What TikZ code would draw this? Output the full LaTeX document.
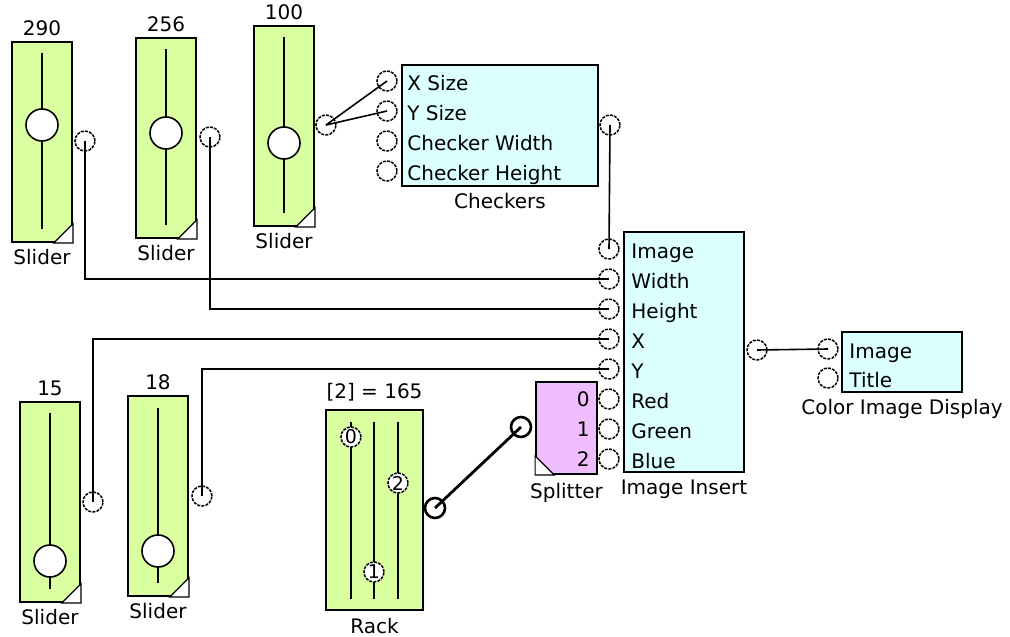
\documentclass[tikz,border=0pt]{standalone}
\usepackage{fontspec}
\setmainfont{DejaVu Sans}
\definecolor{sliderG}{RGB}{217,255,160}
\definecolor{cyanB}{RGB}{220,255,255}
\definecolor{pinkB}{RGB}{240,190,255}
\tikzset{
  sliderbox/.style={draw, line width=0.9pt, fill=sliderG, minimum width=30pt, minimum height=100pt, inner sep=0},
  infobox/.style={draw, line width=0.9pt, fill=cyanB, inner sep=0},
  port/.style={circle, draw, dash pattern=on 1.5pt off 0.6pt, line width=0.75pt, minimum size=10pt, inner sep=0},
  hport/.style={circle, draw, line width=1.3pt, minimum size=10pt, inner sep=0},
  knob/.style={circle, draw, fill=white, line width=0.8pt, minimum size=16pt, inner sep=0},
  rknob/.style={circle, draw, dash pattern=on 1.5pt off 0.6pt, fill=white, line width=0.75pt, minimum size=10pt, inner sep=0, font=\fontsize{9.5}{10}\selectfont},
  trk/.style={line width=0.8pt},
  corner/.style={draw, line width=0.6pt, fill=white},
  wire/.style={line width=0.8pt},
  thickwire/.style={line width=1.4pt},
  lbl/.style={font=\fontsize{10}{12}\selectfont, inner sep=0},
  vlbl/.style={lbl, anchor=south},
  tlbl/.style={lbl, anchor=north},
  plbl/.style={lbl, anchor=base west},
}
\begin{document}
\begin{tikzpicture}[x=0.5pt,y=-0.5pt]
\useasboundingbox (0,0) rectangle (1010,636);

% ---------- Slider 1 (290)
\node[sliderbox] (s1) at (42,142) {};
\draw[trk] (42,53) -- (42,229);
\node[knob] (s1k) at (42,125) {};
\draw[corner] (s1.south east) ++(-9.5pt,0) -- (s1.south east) -- ++(0,9.5pt) -- cycle;
\node[vlbl] (s1v) at ([yshift=2.5pt]s1.north) {290};
\node[tlbl] (s1t) at ([yshift=-3pt]s1.south) {Slider};
\node[port] (s1p) at (85,141) {};

% ---------- Slider 2 (256)
\node[sliderbox] (s2) at (166,138) {};
\draw[trk] (166,49) -- (166,225);
\node[knob] (s2k) at (166,133) {};
\draw[corner] (s2.south east) ++(-9.5pt,0) -- (s2.south east) -- ++(0,9.5pt) -- cycle;
\node[vlbl] (s2v) at ([yshift=2.5pt]s2.north) {256};
\node[tlbl] (s2t) at ([yshift=-3pt]s2.south) {Slider};
\node[port] (s2p) at (210,137) {};

% ---------- Slider 3 (100)
\node[sliderbox] (s3) at (284,126) {};
\draw[trk] (284,37) -- (284,213);
\node[knob] (s3k) at (284,143) {};
\draw[corner] (s3.south east) ++(-9.5pt,0) -- (s3.south east) -- ++(0,9.5pt) -- cycle;
\node[vlbl] (s3v) at ([yshift=2.5pt]s3.north) {100};
\node[tlbl] (s3t) at ([yshift=-3pt]s3.south) {Slider};
\node[port] (s3p) at (326,125) {};

% ---------- Slider 4 (15)
\node[sliderbox] (s4) at (50,502) {};
\draw[trk] (50,413) -- (50,589);
\node[knob] (s4k) at (50,561) {};
\draw[corner] (s4.south east) ++(-9.5pt,0) -- (s4.south east) -- ++(0,9.5pt) -- cycle;
\node[vlbl] (s4v) at ([yshift=2.5pt]s4.north) {15};
\node[tlbl] (s4t) at ([yshift=-3pt]s4.south) {Slider};
\node[port] (s4p) at (93,502) {};

% ---------- Slider 5 (18)
\node[sliderbox] (s5) at (158,496) {};
\draw[trk] (158,408) -- (158,583);
\node[knob] (s5k) at (158,551) {};
\draw[corner] (s5.south east) ++(-9.5pt,0) -- (s5.south east) -- ++(0,9.5pt) -- cycle;
\node[vlbl] (s5v) at ([yshift=2.5pt]s5.north) {18};
\node[tlbl] (s5t) at ([yshift=-3pt]s5.south) {Slider};
\node[port] (s5p) at (202,496) {};

% ---------- Checkers
\node[infobox, minimum width=98pt, minimum height=60.5pt] (ch) at (500,125.5) {};
\node[tlbl] (cht) at ([yshift=-3pt]ch.south) {Checkers};
\node[port] (chX) at (387,81) {};
\node[port] (chY) at (387,111) {};
\node[port] (chW) at (387,141) {};
\node[port] (chH) at (387,171) {};
\node[plbl] (chXl) at (407,91) {X Size};
\node[plbl] (chYl) at (407,121) {Y Size};
\node[plbl] (chWl) at (407,151) {Checker Width};
\node[plbl] (chHl) at (407,181) {Checker Height};
\node[port] (chOut) at (610,125) {};

% ---------- Image Insert
\node[infobox, minimum width=60pt, minimum height=120pt] (ii) at (684,352) {};
\node[tlbl] (iit) at ([yshift=-3.5pt]ii.south) {Image Insert};
\node[port] (iiImg) at (609,249) {};
\node[port] (iiW) at (609,279) {};
\node[port] (iiH) at (609,309) {};
\node[port] (iiX) at (609,339) {};
\node[port] (iiY) at (609,369) {};
\node[port] (iiR) at (609,399) {};
\node[port] (iiG) at (609,429) {};
\node[port] (iiB) at (609,459) {};
\node[plbl] (iiImgl) at (631,258) {Image};
\node[plbl] (iiWl) at (631,288) {Width};
\node[plbl] (iiHl) at (631,318) {Height};
\node[plbl] (iiXl) at (631,348) {X};
\node[plbl] (iiYl) at (631,378) {Y};
\node[plbl] (iiRl) at (631,408) {Red};
\node[plbl] (iiGl) at (631,438) {Green};
\node[plbl] (iiBl) at (631,468) {Blue};
\node[port] (iiOut) at (757,350) {};

% ---------- Color Image Display
\node[infobox, minimum width=60pt, minimum height=30pt] (cid) at (902,362) {};
\node[tlbl] (cidt) at ([yshift=-3pt]cid.south) {Color Image Display};
\node[port] (cidImg) at (828,349) {};
\node[port] (cidTit) at (828,378) {};
\node[plbl] (cidImgl) at (849,358) {Image};
\node[plbl] (cidTitl) at (849,387) {Title};

% ---------- Splitter
\node[draw, line width=0.9pt, fill=pinkB, minimum width=30.5pt, minimum height=46pt, inner sep=0] (sp) at (566.5,428) {};
\draw[corner] (sp.south west) ++(9.5pt,0) -- (sp.south west) -- ++(0,9.5pt) -- cycle;
\node[tlbl] (spt) at ([yshift=-4pt]sp.south) {Splitter};
\node[lbl, anchor=base east] (sp0) at (590,406) {0};
\node[lbl, anchor=base east] (sp1) at (590,436) {1};
\node[lbl, anchor=base east] (sp2) at (590,466) {2};
\node[hport] (spIn) at (521,427) {};

% ---------- Rack
\node[draw, line width=0.9pt, fill=sliderG, minimum width=48.5pt, minimum height=100pt, inner sep=0] (rk) at (374.5,510) {};
\draw[trk] (351,422) -- (351,599);
\draw[trk] (374,422) -- (374,599);
\draw[trk] (398,422) -- (398,599);
\node[rknob] (rk0) at (351,437) {0};
\node[rknob] (rk1) at (374,572) {1};
\node[rknob] (rk2) at (398,483) {2};
\node[vlbl] (rkv) at ([yshift=4pt]rk.north) {[2] = 165};
\node[tlbl] (rkt) at ([yshift=-3.5pt]rk.south) {Rack};
\node[hport] (rkOut) at (435,508) {};

% ---------- Wires
\draw[wire] (s1p.center) |- (iiW.center);
\draw[wire] (s2p.center) |- (iiH.center);
\draw[wire] (s4p.center) |- (iiX.center);
\draw[wire] (s5p.center) |- (iiY.center);
\draw[wire] (s3p.center) -- (chX.center);
\draw[wire] (s3p.center) -- (chY.center);
\draw[wire] (chOut.center) -- (iiImg.center);
\draw[wire] (iiOut.center) -- (cidImg.center);
\draw[thickwire] (rkOut.center) -- (spIn.center);
\end{tikzpicture}
\end{document}
